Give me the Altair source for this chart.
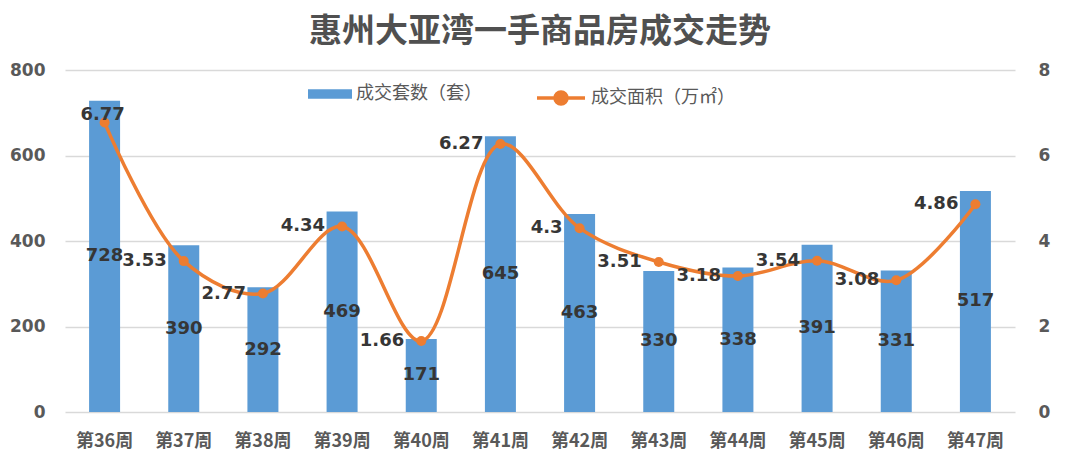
import altair as alt
import pandas as pd

weeks = ["第36周", "第37周", "第38周", "第39周", "第40周", "第41周",
         "第42周", "第43周", "第44周", "第45周", "第46周", "第47周"]
units = [728, 390, 292, 469, 171, 645, 463, 330, 338, 391, 331, 517]
area = [6.77, 3.53, 2.77, 4.34, 1.66, 6.27, 4.3, 3.51, 3.18, 3.54, 3.08, 4.86]

S1 = "成交套数（套）"
S2 = "成交面积（万㎡）"
BLUE = "#5B9BD5"
ORANGE = "#ED7D31"
TXT = "#363636"
AX = "#595959"
CJK = "Noto Sans CJK SC"
NUM = "DejaVu Sans"

df = pd.DataFrame({"week": weeks, "units": units, "area": area})
df["s1"] = S1
df["s2"] = S2
df["half"] = df["units"] / 2
df["area_lbl"] = [str(v) for v in area]
df["first"] = [w == weeks[0] for w in weeks]

x = alt.X("week:N", sort=weeks, title=None,
          scale=alt.Scale(paddingInner=0.0, paddingOuter=0.0),
          axis=alt.Axis(labelFont=CJK, labelFontSize=18, labelFontWeight="bold",
                        labelColor=AX, labelPadding=20, ticks=False, domain=False,
                        labelAngle=0))

yl = alt.Scale(domain=[0, 800])
yr = alt.Scale(domain=[0, 8])

left_axis = alt.Axis(values=[0, 200, 400, 600, 800], grid=True, gridColor="#D9D9D9",
                     gridWidth=1.5, domain=False, ticks=False, labelFont=NUM,
                     labelFontSize=17, labelFontWeight="bold", labelColor=AX,
                     labelPadding=20, title=None)
right_axis = alt.Axis(orient="right", values=[0, 2, 4, 6, 8], grid=False,
                      domain=False, ticks=False, labelFont=NUM, labelFontSize=17,
                      labelFontWeight="bold", labelColor=AX, labelPadding=23, title=None)

bars = alt.Chart(df).mark_bar(size=31).encode(
    x=x,
    y=alt.Y("units:Q", scale=yl, title=None, axis=left_axis),
    color=alt.Color("s1:N", scale=alt.Scale(domain=[S1], range=[BLUE]),
                    legend=alt.Legend(title=None, orient="none", legendX=243, legendY=2,
                                      symbolType="M-1,-0.22L1,-0.22L1,0.22L-1,0.22Z",
                                      symbolSize=1936, symbolStrokeWidth=0,
                                      labelFont=CJK, labelFontSize=18, labelColor=AX,
                                      labelOffset=4, padding=0)),
)

bar_text = alt.Chart(df).mark_text(font=NUM, fontSize=18, fontWeight="bold",
                                   color=TXT, baseline="middle").encode(
    x=x,
    y=alt.Y("half:Q", scale=yl, title=None, axis=left_axis),
    text=alt.Text("units:N"),
)

line = alt.Chart(df).mark_line(interpolate="catmull-rom", strokeWidth=3.5).encode(
    x=x,
    y=alt.Y("area:Q", scale=yr, title=None, axis=right_axis),
    stroke=alt.Stroke("s2:N", scale=alt.Scale(domain=[S2], range=[ORANGE]),
                      legend=alt.Legend(title=None, orient="none", legendX=470, legendY=2,
                                        symbolType="M-1,0L1,0M0.25,0A0.25,0.25,0,1,1,-0.25,0A0.25,0.25,0,1,1,0.25,0Z",
                                        symbolSize=2304, symbolStrokeWidth=3.5,
                                        symbolFillColor=ORANGE,
                                        labelFont=CJK, labelFontSize=18, labelColor=AX,
                                        labelOffset=4, padding=0)),
)

pts = alt.Chart(df).mark_circle(size=100, opacity=1, color=ORANGE).encode(
    x=x,
    y=alt.Y("area:Q", scale=yr, title=None, axis=right_axis),
)

line_text = alt.Chart(df).transform_filter("!datum.first").mark_text(
    font=NUM, fontSize=18, fontWeight="bold", color=TXT, align="right",
    baseline="middle", dx=-17).encode(
    x=x,
    y=alt.Y("area:Q", scale=yr, title=None, axis=right_axis),
    text=alt.Text("area_lbl:N"),
)

first_text = alt.Chart(df).transform_filter("datum.first").mark_text(
    font=NUM, fontSize=18, fontWeight="bold", color=TXT, align="center",
    baseline="middle", dx=-2, dy=-8).encode(
    x=x,
    y=alt.Y("area:Q", scale=yr, title=None, axis=right_axis),
    text=alt.Text("area_lbl:N"),
)

left = alt.layer(bars, bar_text)
right = alt.layer(line, pts, line_text, first_text)

chart = alt.layer(left, right).resolve_scale(
    y="independent"
).properties(
    width=950, height=342,
    background="white",
    title=alt.TitleParams("惠州大亚湾一手商品房成交走势", font=CJK, fontSize=33,
                          fontWeight="bold", color="#505050", anchor="middle",
                          offset=12),
    autosize=alt.AutoSizeParams(type="none"),
    padding={"left": 65, "top": 70, "right": 65, "bottom": 57},
).configure_view(stroke=None)

chart.save("out.html", embed_options={"renderer": "svg", "actions": False})
